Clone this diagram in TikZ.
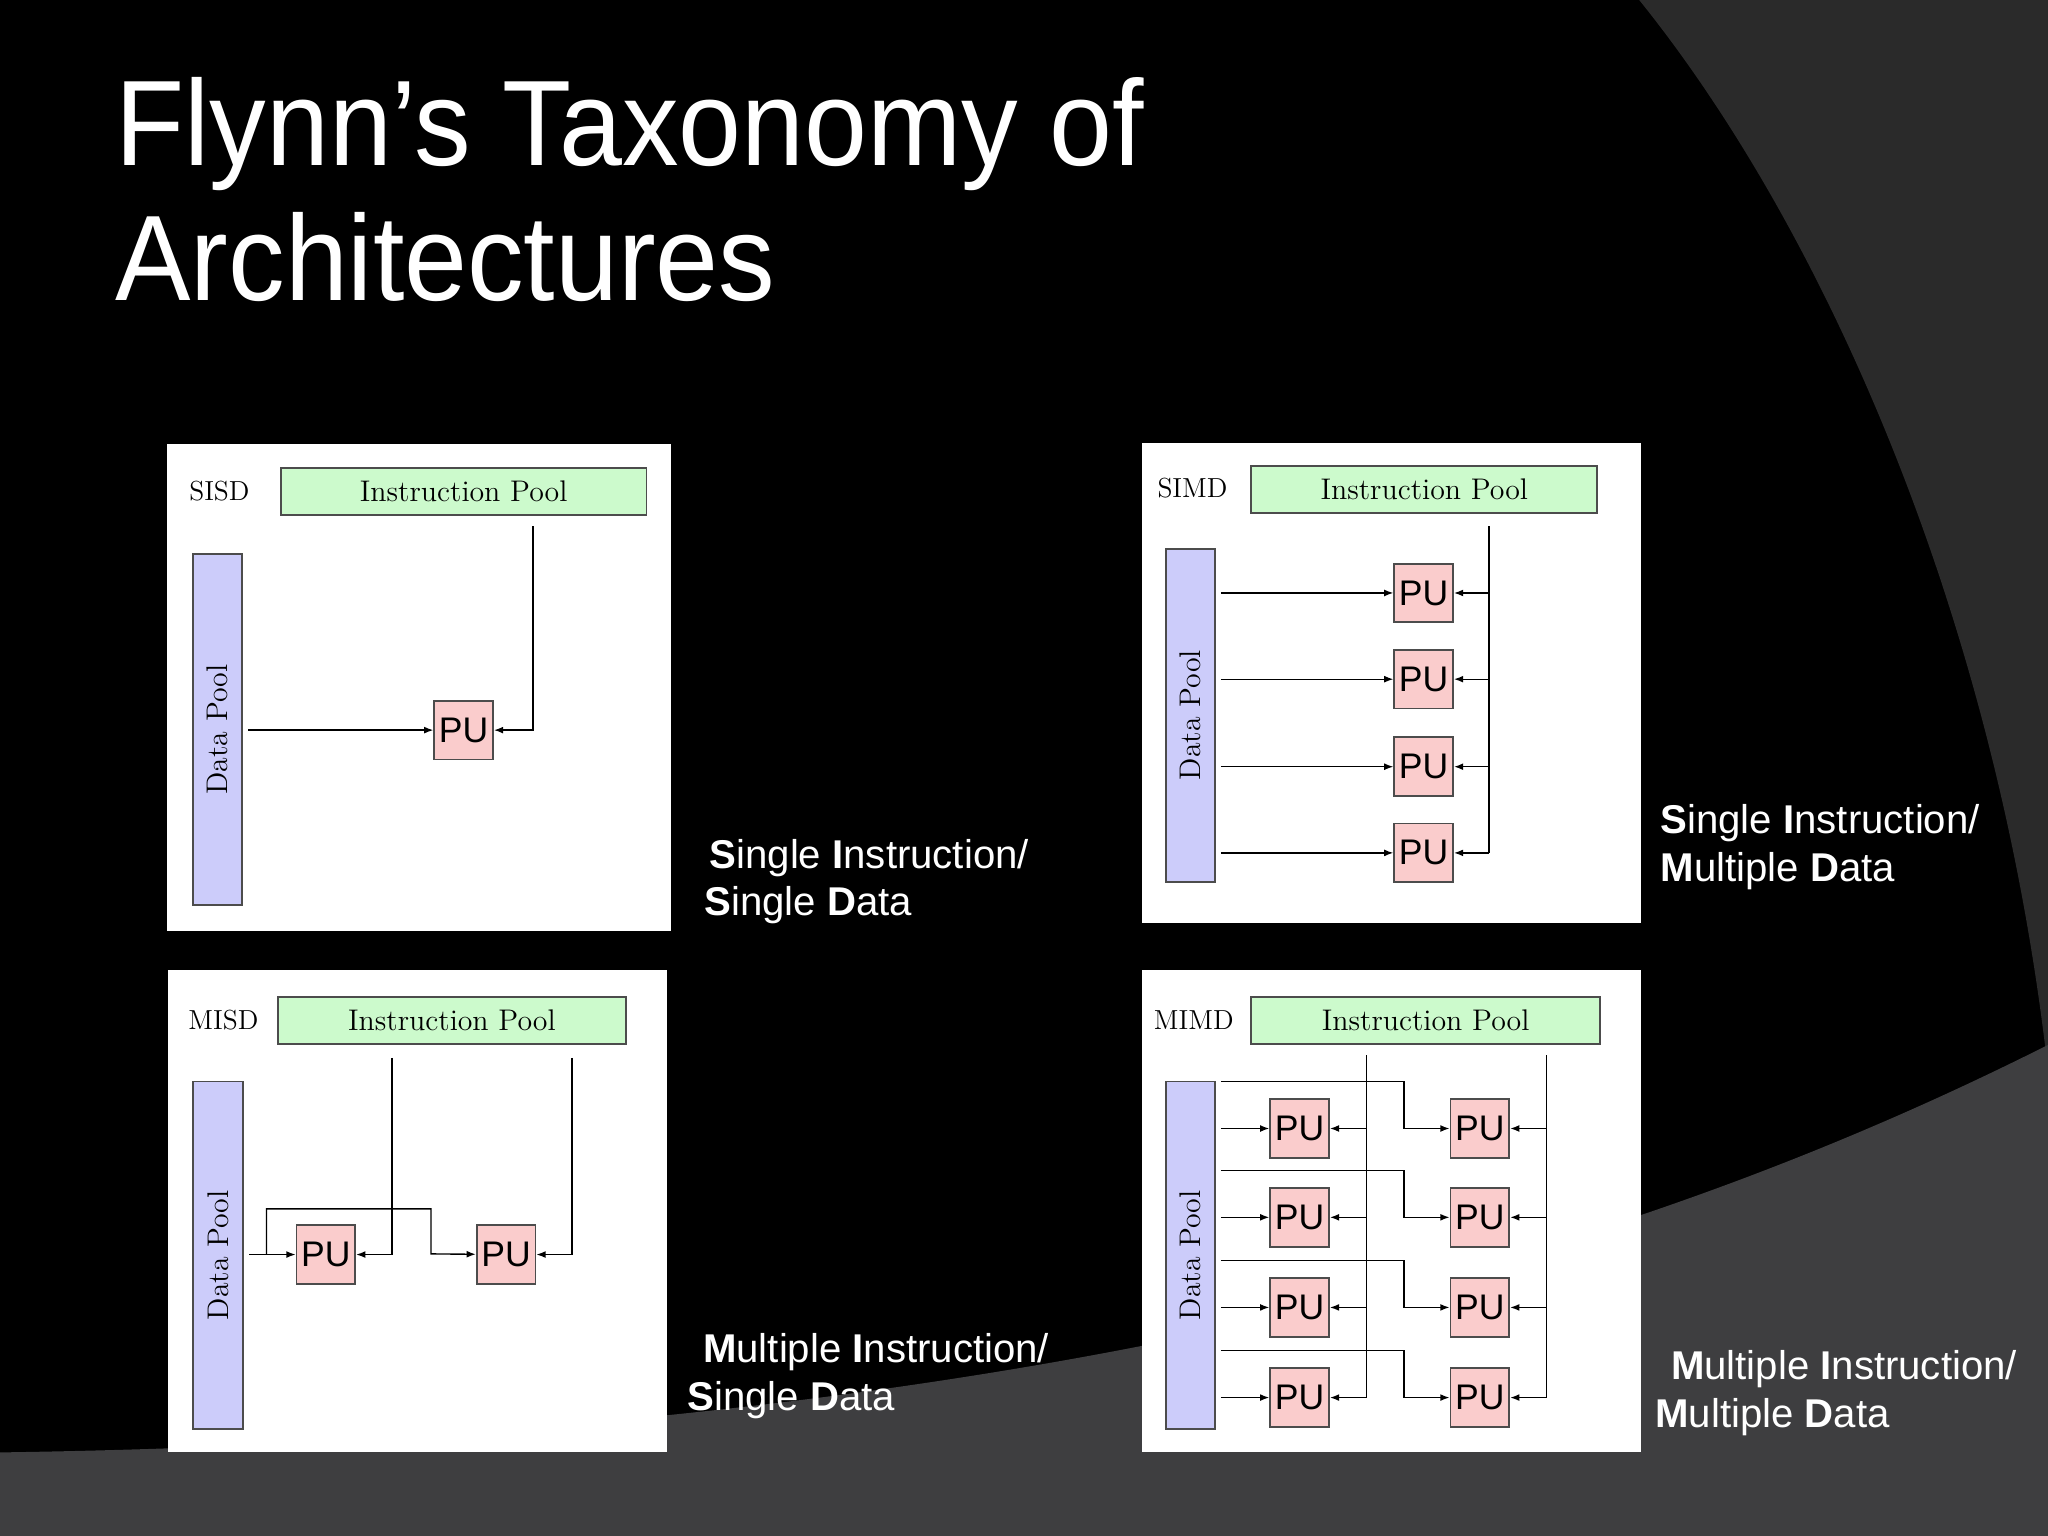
\documentclass[tikz,border=0pt]{standalone}
\usepackage{fontspec}
\newfontfamily\sansf{Liberation Sans}
\usetikzlibrary{arrows.meta,calc,positioning}

\definecolor{ipgreen}{RGB}{204,250,204}
\definecolor{dplila}{RGB}{204,204,250}
\definecolor{pupink}{RGB}{250,204,204}
\definecolor{bandgray}{RGB}{42,42,42}
\definecolor{lowgray}{RGB}{62,62,64}

\begin{document}
\begin{tikzpicture}[x=0.02cm, y=-0.02cm]

	\tikzstyle{panel}=[fill=white]
	\tikzstyle{ipool}=[draw=black!70, fill=ipgreen, line width=0.8pt, minimum height=0.72cm, inner sep=0pt, font=\fontsize{13}{15}\selectfont]
	\tikzstyle{dpool}=[draw=black!70, fill=dplila, line width=0.8pt, rotate=90, minimum height=0.76cm, inner sep=0pt, font=\fontsize{13}{15}\selectfont]
	\tikzstyle{pu}=[draw=black!70, fill=pupink, line width=0.8pt, minimum size=0.9cm, inner sep=0pt, font=\sansf\fontsize{15.5}{18}\selectfont]
	\tikzstyle{tag}=[font=\fontsize{12}{14}\selectfont]
	\tikzstyle{arr}=[-{Latex[length=4pt,width=3pt]}, line width=0.6pt]
	\tikzstyle{ln}=[line width=0.6pt]
	\tikzstyle{caption}=[white, anchor=base west, inner sep=0pt, font=\sansf\fontsize{17.5}{20}\selectfont]
	\tikzstyle{headline}=[white, anchor=base west, inner sep=0pt, xscale=0.93, font=\sansf\fontsize{53}{60}\selectfont]

	% background
	\fill[black] (0,0) rectangle (1568,1176);
	\fill[bandgray] (1255,0) .. controls (1400,180) and (1530,480) .. (1568,820) -- (1568,0) -- cycle;
	\fill[lowgray] (0,1112) .. controls (800,1100) and (1250,960) .. (1568,800) -- (1568,1176) -- (0,1176) -- cycle;
	\useasboundingbox (0,0) rectangle (1568,1176);

	% title
	\node[headline] (title_1) at (88,127) {Flynn’s Taxonomy of};
	\node[headline] (title_2) at (88,230) {Architectures};

	% panels
	\fill[panel] (128,340) rectangle (514,713); % SISD
	\fill[panel] (874,339) rectangle (1256,707); % SIMD
	\fill[panel] (129,743) rectangle (511,1112); % MISD
	\fill[panel] (874,743) rectangle (1256,1112); % MIMD

	% SISD
	\node[tag] (sisd) at (168,376) {SISD};
	\node[ipool, minimum width=5.6cm] (ip_1) at (355,376.5) {Instruction Pool};
	\node[dpool, minimum width=5.38cm] (dp_1) at (166.5,558.5) {Data Pool};
	\node[pu] (pu_1) at (355,559) {PU};
	\coordinate (i_1) at (408,403);
	\draw[arr] ($(dp_1.south |- pu_1)+(4,0)$) -- (pu_1);
	\draw[arr] (i_1) |- (pu_1);

	% SIMD
	\node[tag] (simd) at (913,374) {SIMD};
	\node[ipool, minimum width=5.3cm] (ip_2) at (1090.5,374.5) {Instruction Pool};
	\node[dpool, minimum width=5.1cm, minimum height=0.74cm] (dp_2) at (911.5,547.5) {Data Pool};
	\coordinate (i_2) at (1140,403);
	\foreach \k/\y in {1/454, 2/520, 3/587, 4/653} {
		\node[pu] (pu_2_\k) at (1090,\y) {PU};
		\draw[arr] ($(dp_2.south |- pu_2_\k)+(4,0)$) -- (pu_2_\k);
		\draw[arr] (i_2 |- pu_2_\k) -- (pu_2_\k);
	}
	\draw[ln] (i_2) -- (i_2 |- pu_2_4);

	% MISD
	\node[tag] (misd) at (171,781) {MISD};
	\node[ipool, minimum width=5.32cm] (ip_3) at (346,781) {Instruction Pool};
	\node[dpool, minimum width=5.32cm] (dp_3) at (167,961) {Data Pool};
	\node[pu] (pu_3_1) at (249.5,960.5) {PU};
	\node[pu] (pu_3_2) at (387.5,960.5) {PU};
	\coordinate (i_3_1) at (300,810);
	\coordinate (i_3_2) at (438,810);
	\coordinate (d_3) at ($(dp_3.south |- pu_3_1)+(4,0)$);
	\draw[arr] (d_3) -- (pu_3_1);
	\draw[arr] (d_3 -| 204,0) -- ++(0,-35) -| (330,960) -- (pu_3_2);
	\draw[arr] (i_3_1) |- (pu_3_1);
	\draw[arr] (i_3_2) |- (pu_3_2);

	% MIMD
	\node[tag] (mimd) at (914,781) {MIMD};
	\node[ipool, minimum width=5.34cm] (ip_4) at (1091.5,781) {Instruction Pool};
	\node[dpool, minimum width=5.32cm, minimum height=0.74cm] (dp_4) at (911.5,961) {Data Pool};
	\coordinate (i_4_1) at (1046,808);
	\coordinate (i_4_2) at (1184,808);
	\foreach \k/\y in {1/864, 2/932, 3/1001, 4/1070} {
		\node[pu] (pu_4_\k) at (995,\y) {PU};
		\node[pu] (pu_4_\k b) at (1133,\y) {PU};
		\draw[arr] ($(dp_4.south |- pu_4_\k)+(4,0)$) -- (pu_4_\k);
		\draw[arr] ($(dp_4.south |- pu_4_\k)+(4,-36)$) -| (1075,\y) -- (pu_4_\k b);
		\draw[arr] (i_4_1 |- pu_4_\k) -- (pu_4_\k);
		\draw[arr] (i_4_2 |- pu_4_\k b) -- (pu_4_\k b);
	}
	\draw[ln] (i_4_1) -- (i_4_1 |- pu_4_4);
	\draw[ln] (i_4_2) -- (i_4_2 |- pu_4_4);

	% captions
	\node[caption] (c_1a) at (543,665) {\textbf{S}ingle \textbf{I}nstruction/};
	\node[caption] (c_1b) at (539,701) {\textbf{S}ingle \textbf{D}ata};
	\node[caption] (c_2a) at (1271,638) {\textbf{S}ingle \textbf{I}nstruction/};
	\node[caption] (c_2b) at (1271,675) {\textbf{M}ultiple \textbf{D}ata};
	\node[caption] (c_3a) at (538,1043) {\textbf{M}ultiple \textbf{I}nstruction/};
	\node[caption] (c_3b) at (526,1080) {\textbf{S}ingle \textbf{D}ata};
	\node[caption] (c_4a) at (1279,1056) {\textbf{M}ultiple \textbf{I}nstruction/};
	\node[caption] (c_4b) at (1267,1093) {\textbf{M}ultiple \textbf{D}ata};

\end{tikzpicture}
\end{document}
